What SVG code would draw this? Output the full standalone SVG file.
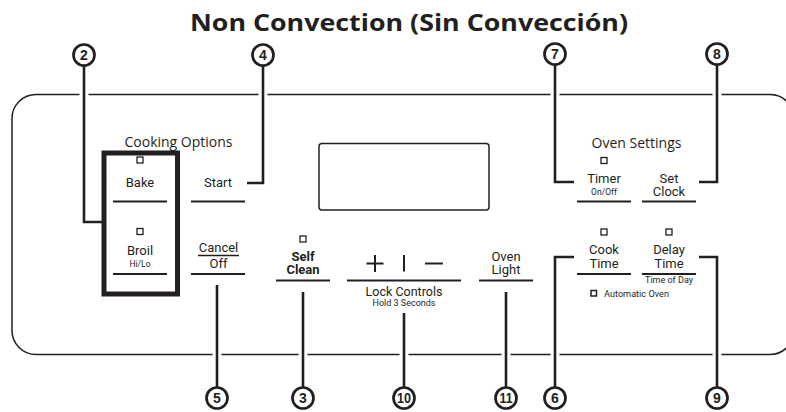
<svg xmlns="http://www.w3.org/2000/svg" width="786" height="412" viewBox="0 0 786 412">
<style>
text{fill:#231f20;text-anchor:middle}
.title{font-family:"Open Sans","Liberation Sans",sans-serif;font-weight:700;font-size:24px}
.hdr{font-family:"Open Sans","Liberation Sans",sans-serif;font-size:14px}
.btn{font-family:Roboto,"Liberation Sans",sans-serif;font-weight:400;font-size:13px}
.bold{font-family:Roboto,"Liberation Sans",sans-serif;font-weight:700;font-size:13px}
.sm{font-family:Roboto,"Liberation Sans",sans-serif;font-weight:400;font-size:8.5px}
.num{font-family:"Liberation Sans",Arial,sans-serif;font-weight:700;font-size:14px}
.ul{stroke:#231f20;stroke-width:2;fill:none}
.ind{stroke:#231f20;stroke-width:1.3;fill:none}
.panel{stroke:#231f20;stroke-width:1.5;fill:none}
.lead{stroke:#231f20;stroke-width:2.6;fill:none}
.gap{stroke:#fff;stroke-width:9;fill:none}
.circ{stroke:#231f20;stroke-width:2.7;fill:#fff}
</style>
<text class="title" x="409" y="31" textLength="438" lengthAdjust="spacingAndGlyphs">Non Convection (Sin Convección)</text>

<g id="panel">
<rect class="panel" x="12" y="94.5" width="782" height="260" rx="24" ry="24"/>
<rect class="panel" x="319" y="143.5" width="170" height="66.5" rx="3" ry="3"/>
<text class="hdr" x="178.5" y="147">Cooking Options</text>
<text class="hdr" x="636.5" y="147.5">Oven Settings</text>
</g>

<g id="bake-broil-group">
<rect x="104" y="153" width="73.5" height="141" fill="none" stroke="#231f20" stroke-width="5"/>
</g>

<g id="bake">
<rect class="ind" x="137" y="157" width="6" height="6"/>
<text class="btn" x="140" y="187">Bake</text>
<line class="ul" x1="113" y1="201.5" x2="167" y2="201.5"/>
</g>

<g id="broil">
<rect class="ind" x="137" y="228.5" width="6" height="6"/>
<text class="btn" x="140" y="254.5">Broil</text>
<text class="sm" x="140" y="267">Hi/Lo</text>
<line class="ul" x1="113" y1="274" x2="167" y2="274"/>
</g>

<g id="start">
<text class="btn" x="218" y="187">Start</text>
<line class="ul" x1="191" y1="201.5" x2="245" y2="201.5"/>
</g>

<g id="cancel-off">
<text class="btn" x="218.5" y="252">Cancel</text>
<line x1="198" y1="255.5" x2="239" y2="255.5" stroke="#231f20" stroke-width="1.3"/>
<text class="btn" x="218.5" y="268">Off</text>
<line class="ul" x1="191" y1="274" x2="245" y2="274"/>
</g>

<g id="self-clean">
<rect class="ind" x="300" y="236" width="6" height="6"/>
<text class="bold" x="303" y="260.5">Self</text>
<text class="bold" x="303" y="274">Clean</text>
<line class="ul" x1="276" y1="280.5" x2="330" y2="280.5"/>
</g>

<g id="lock-controls">
<line class="ul" x1="366.5" y1="263.5" x2="383.5" y2="263.5"/>
<line class="ul" x1="375" y1="255" x2="375" y2="272"/>
<line class="ul" x1="404" y1="255" x2="404" y2="271.5"/>
<line class="ul" x1="425" y1="263.5" x2="443" y2="263.5"/>
<line class="ul" x1="347" y1="280.5" x2="461" y2="280.5"/>
<text class="btn" x="404" y="295.5" textLength="77" lengthAdjust="spacingAndGlyphs">Lock Controls</text>
<text class="sm" x="404" y="305.5" textLength="63" lengthAdjust="spacingAndGlyphs">Hold 3 Seconds</text>
</g>

<g id="oven-light">
<text class="btn" x="506" y="260.5">Oven</text>
<text class="btn" x="506" y="274">Light</text>
<line class="ul" x1="479" y1="280.5" x2="533" y2="280.5"/>
</g>

<g id="timer">
<rect class="ind" x="601" y="157.5" width="6" height="6"/>
<text class="btn" x="604" y="182.5">Timer</text>
<text class="sm" x="604" y="194.5">On/Off</text>
<line class="ul" x1="577" y1="201.5" x2="631" y2="201.5"/>
</g>

<g id="set-clock">
<text class="btn" x="669" y="182.5">Set</text>
<text class="btn" x="669" y="196">Clock</text>
<line class="ul" x1="642" y1="201.5" x2="696" y2="201.5"/>
</g>

<g id="cook-time">
<rect class="ind" x="601" y="229" width="6" height="6"/>
<text class="btn" x="604" y="253.5">Cook</text>
<text class="btn" x="604" y="267.5">Time</text>
<line class="ul" x1="577" y1="274" x2="631" y2="274"/>
</g>

<g id="delay-time">
<rect class="ind" x="666" y="229" width="6" height="6"/>
<text class="btn" x="669" y="253.5">Delay</text>
<text class="btn" x="669" y="267.5">Time</text>
<line class="ul" x1="642" y1="274" x2="696" y2="274"/>
<text class="sm" x="669" y="282.5" textLength="48" lengthAdjust="spacingAndGlyphs">Time of Day</text>
</g>

<g id="automatic-oven">
<rect x="591" y="290.5" width="5.5" height="5.5" fill="none" stroke="#231f20" stroke-width="1.5"/>
<text class="sm" x="604" y="296.5" style="text-anchor:start" textLength="65" lengthAdjust="spacingAndGlyphs">Automatic Oven</text>
</g>

<g id="connectors">
<line class="gap" x1="84" y1="90" x2="84" y2="99"/>
<line class="gap" x1="263" y1="90" x2="263" y2="99"/>
<line class="gap" x1="555" y1="90" x2="555" y2="99"/>
<line class="gap" x1="717" y1="90" x2="717" y2="99"/>
<line class="gap" x1="217" y1="350" x2="217" y2="359"/>
<line class="gap" x1="303" y1="350" x2="303" y2="359"/>
<line class="gap" x1="404" y1="350" x2="404" y2="359"/>
<line class="gap" x1="506" y1="350" x2="506" y2="359"/>
<line class="gap" x1="555" y1="350" x2="555" y2="359"/>
<line class="gap" x1="717" y1="350" x2="717" y2="359"/>
<path class="lead" d="M84 60 V222 H102"/>
<path class="lead" d="M263 60 V183 H247"/>
<path class="lead" d="M555 60 V182 H574"/>
<path class="lead" d="M717 60 V182 H699"/>
<path class="lead" d="M217 395 V285"/>
<path class="lead" d="M303 395 V292"/>
<path class="lead" d="M404 395 V313"/>
<path class="lead" d="M506 395 V292"/>
<path class="lead" d="M555 395 V257 H574"/>
<path class="lead" d="M717 395 V257 H699"/>
</g>

<g id="callout-2"><circle class="circ" cx="84" cy="55" r="10.5"/><text class="num" x="84" y="60">2</text></g>
<g id="callout-4"><circle class="circ" cx="263" cy="55" r="10.5"/><text class="num" x="263" y="60">4</text></g>
<g id="callout-7"><circle class="circ" cx="555" cy="54" r="10.5"/><text class="num" x="555" y="59">7</text></g>
<g id="callout-8"><circle class="circ" cx="717" cy="54" r="10.5"/><text class="num" x="717" y="59">8</text></g>
<g id="callout-5"><circle class="circ" cx="217" cy="398" r="10.5"/><text class="num" x="217" y="403">5</text></g>
<g id="callout-3"><circle class="circ" cx="303" cy="398" r="10.5"/><text class="num" x="303" y="403">3</text></g>
<g id="callout-10"><circle class="circ" cx="404" cy="398" r="10.5"/><text class="num" x="404" y="403" textLength="14" lengthAdjust="spacingAndGlyphs">10</text></g>
<g id="callout-11"><circle class="circ" cx="506" cy="398" r="10.5"/><text class="num" x="506" y="403" textLength="13" lengthAdjust="spacingAndGlyphs">11</text></g>
<g id="callout-6"><circle class="circ" cx="555" cy="398" r="10.5"/><text class="num" x="555" y="403">6</text></g>
<g id="callout-9"><circle class="circ" cx="717" cy="398" r="10.5"/><text class="num" x="717" y="403">9</text></g>
</svg>
